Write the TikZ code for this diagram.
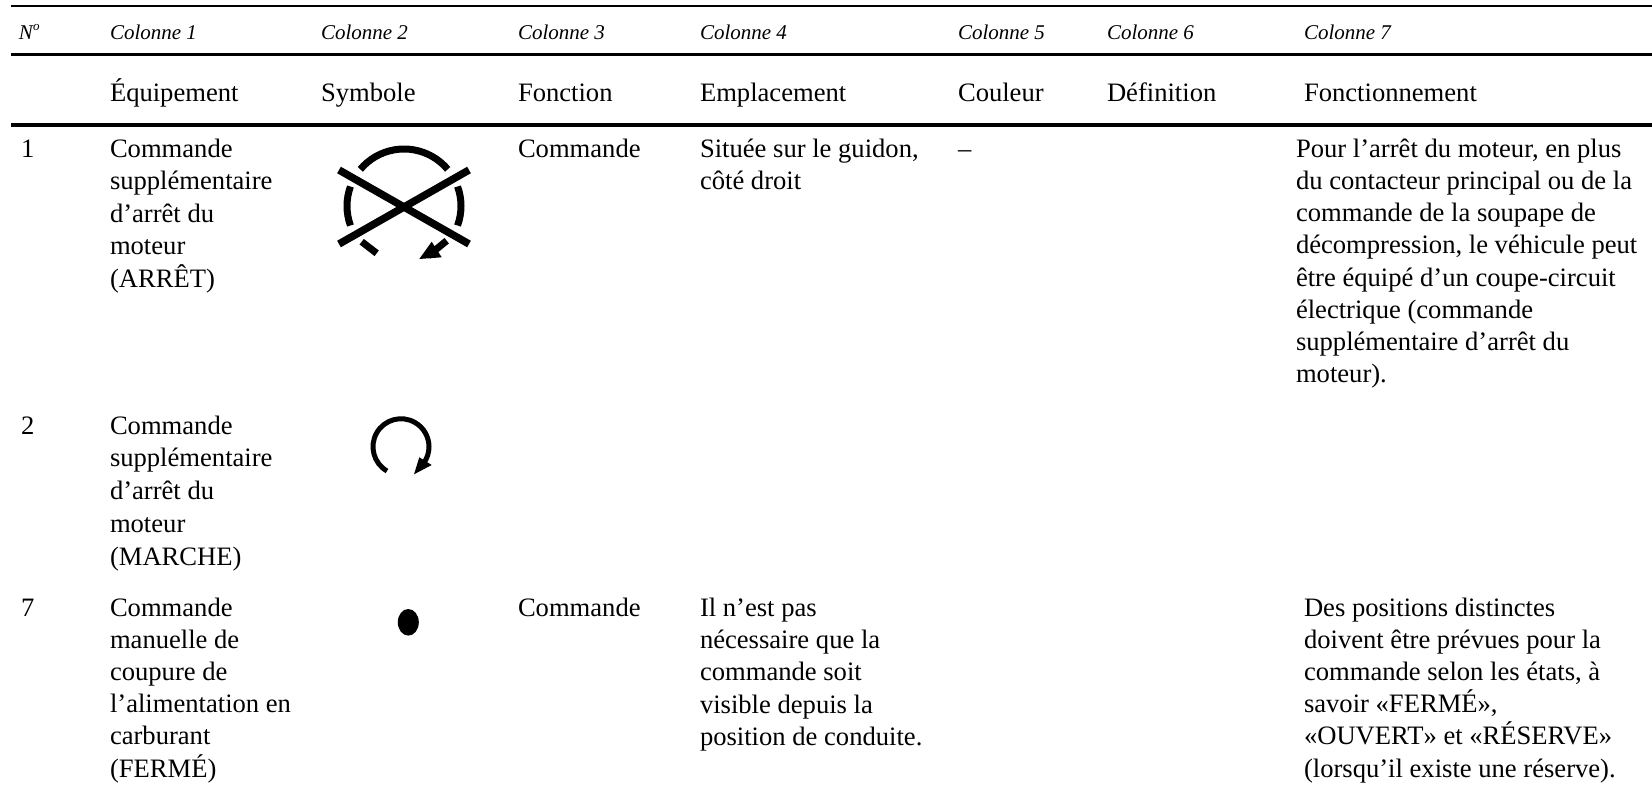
\documentclass[tikz,border=0pt]{standalone}
\usepackage{fontspec}
\setmainfont{Liberation Serif}
\newcommand\fl{\rule{0pt}{20pt}}
\tikzset{
  x=1pt,y=-1pt,
  cell/.style={anchor=base west,inner sep=0pt,outer sep=0pt,align=left,font=\fontsize{26.6}{32.4}\selectfont},
  mcell/.style={cell,anchor=north west},
  head/.style={anchor=base west,inner sep=0pt,outer sep=0pt,font=\fontsize{21}{24}\selectfont\itshape},
  rule/.style={line width=#1,black},
  sym/.style={line width=7pt,black},
  symb/.style={line width=5pt,black},
}
\begin{document}
\begin{tikzpicture}
\useasboundingbox (0,0) rectangle (1652,785);
\coordinate (r1a) at (11,6); \coordinate (r1b) at (1652,6);
\coordinate (r2a) at (11,54.5); \coordinate (r2b) at (1652,54.5);
\coordinate (r3a) at (11,125); \coordinate (r3b) at (1652,125);
\draw[rule=2.5pt] (r1a) -- (r1b);
\draw[rule=2.5pt] (r2a) -- (r2b);
\draw[rule=4.5pt] (r3a) -- (r3b);
\node[head] (h0) at (19,39) {N\raisebox{.4em}{\fontsize{13}{14}\selectfont o}};
\node[head] (h1) at (110,39) {Colonne 1};
\node[head] (h2) at (321,39) {Colonne 2};
\node[head] (h3) at (518,39) {Colonne 3};
\node[head] (h4) at (700,39) {Colonne 4};
\node[head] (h5) at (958,39) {Colonne 5};
\node[head] (h6) at (1107,39) {Colonne 6};
\node[head] (h7) at (1304,39) {Colonne 7};
\node[cell] (t1) at (110,101) {Équipement};
\node[cell] (t2) at (321,101) {Symbole};
\node[cell] (t3) at (518,101) {Fonction};
\node[cell] (t4) at (700,101) {Emplacement};
\node[cell] (t5) at (958,101) {Couleur};
\node[cell] (t6) at (1107,101) {Définition};
\node[cell] (t7) at (1304,101) {Fonctionnement};
\node[cell] (a0) at (21,157.5) {1};
\node[mcell] (a1) at (110,137.5) {\fl Commande\\supplémentaire\\d’arrêt du\\moteur\\(ARRÊT)};
\node[cell] (a3) at (518,157.5) {Commande};
\node[mcell] (a4) at (700,137.5) {\fl Située sur le guidon,\\côté droit};
\node[cell] (a5) at (958,157.5) {–};
\node[mcell,font=\fontsize{26.6}{32.25}\selectfont] (a7) at (1296,137) {\fl Pour l’arrêt du moteur, en plus\\du contacteur principal ou de la\\commande de la soupape de\\décompression, le véhicule peut\\être équipé d’un coupe-circuit\\électrique (commande\\supplémentaire d’arrêt du\\moteur).};
\node[cell] (b0) at (21,434) {2};
\node[mcell,font=\fontsize{26.6}{32.75}\selectfont] (b1) at (110,414) {\fl Commande\\supplémentaire\\d’arrêt du\\moteur\\(MARCHE)};
\node[cell] (c0) at (21,616.5) {7};
\node[mcell,font=\fontsize{26.6}{32.1}\selectfont] (c1) at (110,596.5) {\fl Commande\\manuelle de\\coupure de\\l’alimentation en\\carburant\\(FERMÉ)};
\node[cell] (c3) at (518,616.5) {Commande};
\node[mcell,font=\fontsize{26.6}{32.2}\selectfont] (c4) at (700,596.5) {\fl Il n’est pas\\nécessaire que la\\commande soit\\visible depuis la\\position de conduite.};
\node[mcell,font=\fontsize{26.6}{32.1}\selectfont] (c7) at (1304,596.5) {\fl Des positions distinctes\\doivent être prévues pour la\\commande selon les états, à\\savoir «FERMÉ»,\\«OUVERT» et «RÉSERVE»\\(lorsqu’il existe une réserve).};
% symbol 1
\coordinate (s1) at (404,206);
\draw[sym] ([shift={(-40:57)}]s1) arc[start angle=-40,end angle=-140,radius=57];
\draw[sym] ([shift={(160:57)}]s1) arc[start angle=160,end angle=200,radius=57];
\draw[sym] ([shift={(20:57)}]s1) arc[start angle=20,end angle=-20,radius=57];
\draw[sym] (361.7,241.7) -- (376.7,253.3);
\draw[sym] (446.7,240.7) -- (428,256);
\fill (419.3,259) -- (431.7,241.7) -- (441.7,257.3) -- cycle;
\draw[line width=7.5pt] (339,170) -- (469,244);
\draw[line width=7.5pt] (469,170) -- (339,244);
% symbol 2
\coordinate (s2) at (400.7,446.7);
\draw[symb] (387,471) arc[start angle=120,end angle=395,radius=28];
\fill (414,474.3) -- (419.3,457.3) -- (431.7,465) -- cycle;
\fill (408.3,622.3) ellipse[x radius=10.5,y radius=13.3];
\end{tikzpicture}
\end{document}
